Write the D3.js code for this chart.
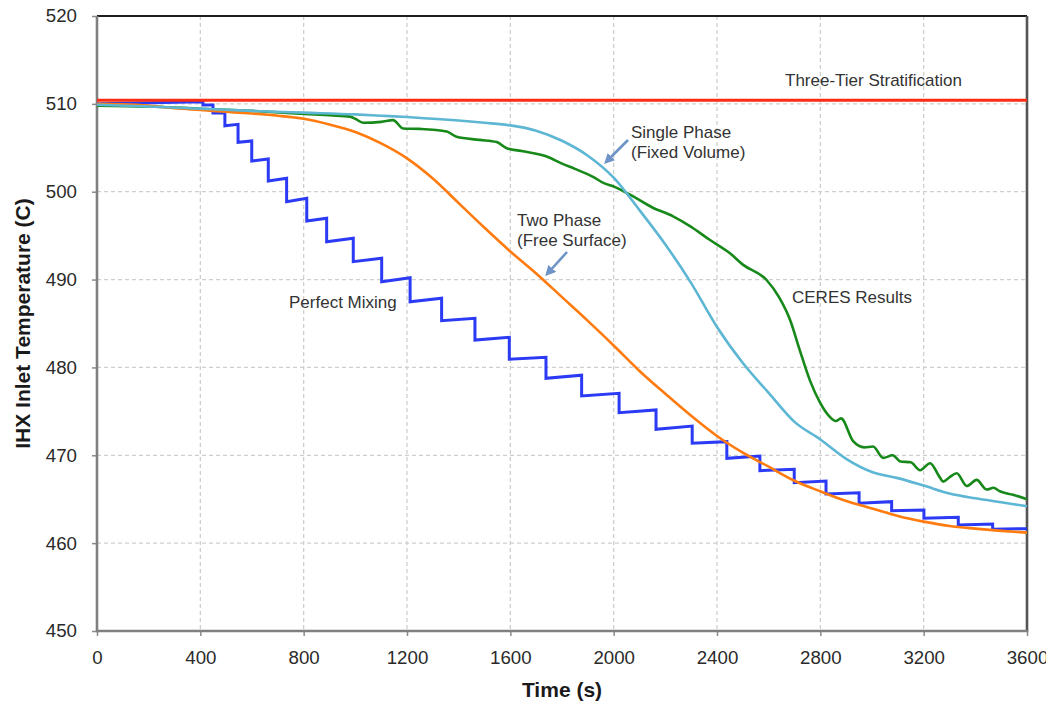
<!DOCTYPE html>
<html>
<head>
<meta charset="utf-8">
<script src="https://cdn.jsdelivr.net/npm/d3@7"></script>
<style>
  html, body { margin: 0; padding: 0; background: #fff; }
  svg { display: block; font-family: "Liberation Sans", Arial, Helvetica, sans-serif; }
  .grid line { stroke: #cfcfcf; stroke-width: 1.3; stroke-dasharray: 4,3; }
  .axis text { fill: #2a2a2a; font-size: 18.7px; }
  .axis line { stroke: #8a8a8a; stroke-width: 1.5; }
  .axis path { display: none; }
  .note { fill: #333; font-size: 17px; }
</style>
</head>
<body>
<svg id="chart" width="1046" height="708"></svg>
<script>
// ─── Data ─────────────────────────────────────────────────────────────────────

const xTicks = [0, 400, 800, 1200, 1600, 2000, 2400, 2800, 3200, 3600];
const yTicks = [450, 460, 470, 480, 490, 500, 510, 520];

// Three-tier stratification: flat
const stratTime = [0, 3600];
const stratTemp = [510.4, 510.4];

// Perfect mixing: staircase (drop times, temp just before / after each drop)
const mixingStart = [0, 510.0];
const mixingEnd = [3600, 461.65];
const mixingDropTime = [410, 449, 495, 546, 599, 663, 734, 812, 889, 992, 1102, 1212, 1334, 1463, 1596,
  1738, 1876, 2021, 2164, 2304, 2438, 2566, 2699, 2822, 2950, 3076, 3201, 3334, 3467];
const mixingTop = [510.25, 509.87, 508.96, 507.67, 505.77, 503.72, 501.53, 499.25, 496.97, 494.70, 492.42,
  490.21, 487.87, 485.59, 483.43, 481.15, 479.11, 477.06, 475.16, 473.33, 471.55, 469.92, 468.41, 467.07,
  465.74, 464.72, 463.77, 462.94, 462.18];
const mixingBottom = [509.87, 508.96, 507.51, 505.62, 503.50, 501.22, 498.87, 496.67, 494.31, 492.04, 489.76,
  487.48, 485.32, 483.12, 480.93, 478.76, 476.75, 474.85, 472.96, 471.37, 469.66, 468.25, 466.88, 465.60,
  464.54, 463.69, 462.83, 462.07, 461.58];

// Two phase (free surface)
const twoPhaseTime = [0, 100, 200, 300, 400, 500, 600, 700, 800, 900, 1000, 1100, 1200, 1300, 1400, 1500,
  1600, 1700, 1800, 1900, 2000, 2100, 2200, 2300, 2400, 2500, 2600, 2700, 2800, 2900, 3000, 3100, 3200,
  3300, 3400, 3500, 3600];
const twoPhaseTemp = [510.0, 509.95, 509.8, 509.5, 509.3, 509.1, 508.9, 508.65, 508.3, 507.65, 506.8, 505.5,
  503.8, 501.5, 498.7, 495.9, 493.2, 490.7, 488.0, 485.3, 482.5, 479.6, 477.0, 474.5, 472.2, 470.3, 468.7,
  467.1, 465.9, 464.8, 463.95, 463.1, 462.45, 461.95, 461.65, 461.4, 461.2];

// Single phase (fixed volume)
const singlePhaseTime = [0, 200, 400, 600, 800, 1000, 1100, 1200, 1300, 1400, 1500, 1600, 1700, 1800, 1900,
  2000, 2100, 2200, 2300, 2400, 2500, 2600, 2700, 2800, 2900, 3000, 3100, 3200, 3300, 3400, 3500, 3600];
const singlePhaseTemp = [509.9, 509.7, 509.45, 509.2, 509.0, 508.8, 508.65, 508.5, 508.3, 508.1, 507.85,
  507.55, 506.95, 505.8, 504.1, 501.6, 497.9, 494.0, 489.6, 484.6, 480.5, 477.1, 473.8, 471.8, 469.6, 468.1,
  467.4, 466.55, 465.65, 465.1, 464.65, 464.2];

// CERES results
const ceresTime = [0, 200, 400, 600, 750, 900, 980, 1000, 1030, 1100, 1146, 1185, 1250, 1354, 1392, 1480,
  1547, 1586, 1650, 1741, 1800, 1850, 1920, 1960, 2000, 2067, 2150, 2230, 2300, 2373, 2450, 2500, 2592,
  2640, 2683, 2720, 2760, 2799, 2830, 2860, 2880, 2927, 2970, 3004, 3043, 3080, 3110, 3150, 3186, 3225,
  3260, 3276, 3300, 3328, 3367, 3405, 3444, 3470, 3495, 3546, 3600];
const ceresTemp = [509.8, 509.7, 509.45, 509.2, 508.95, 508.7, 508.55, 508.3, 507.85, 507.95, 508.15, 507.2,
  507.15, 506.85, 506.25, 505.9, 505.65, 504.95, 504.6, 504.0, 503.2, 502.6, 501.7, 501.0, 500.6, 499.6,
  498.2, 497.2, 496.0, 494.5, 493.0, 491.7, 489.95, 488.0, 485.4, 482.0, 478.5, 476.0, 474.6, 473.9, 474.2,
  471.6, 470.9, 471.0, 469.7, 470.0, 469.3, 469.2, 468.3, 469.1, 467.6, 467.0, 467.5, 467.95, 466.5, 467.2,
  466.1, 466.3, 465.9, 465.5, 465.0];

// ─── Chart ────────────────────────────────────────────────────────────────────

const svg = d3.select("#chart");
const margin = { top: 16, right: 19, bottom: 77, left: 97 };
const W = 1046, H = 708;

const x = d3.scaleLinear().domain([0, 3600]).range([margin.left, W - margin.right]);
const y = d3.scaleLinear().domain([450, 520]).range([H - margin.bottom, margin.top]);

// Grid
const grid = svg.append("g").attr("class", "grid");
grid.selectAll(".gx")
  .data(xTicks.slice(1, -1))
  .join("line")
  .attr("class", "gx")
  .attr("x1", d => x(d)).attr("x2", d => x(d))
  .attr("y1", y(520)).attr("y2", y(450));
grid.selectAll(".gy")
  .data(yTicks.slice(1, -1))
  .join("line")
  .attr("class", "gy")
  .attr("x1", x(0)).attr("x2", x(3600))
  .attr("y1", d => y(d)).attr("y2", d => y(d));

// Axes
svg.append("g")
  .attr("class", "axis")
  .attr("transform", `translate(${x(0)},0)`)
  .call(d3.axisLeft(y).tickValues(yTicks).tickFormat(d3.format("d")).tickSize(5).tickPadding(15));

svg.append("g")
  .attr("class", "axis")
  .attr("transform", `translate(0,${y(450)})`)
  .call(d3.axisBottom(x).tickValues(xTicks).tickFormat(d3.format("d")).tickSize(5).tickPadding(15));

// Frame
svg.append("line")
  .attr("x1", x(0)).attr("x2", x(3600)).attr("y1", y(520)).attr("y2", y(520))
  .attr("stroke", "#1e1e1e").attr("stroke-width", 1.8);
svg.append("line")
  .attr("x1", x(3600)).attr("x2", x(3600)).attr("y1", y(520)).attr("y2", y(450))
  .attr("stroke", "#555").attr("stroke-width", 2.6);
svg.append("line")
  .attr("x1", x(0)).attr("x2", x(0)).attr("y1", y(520)).attr("y2", y(450) + 1.3)
  .attr("stroke", "#808080").attr("stroke-width", 2.6);
svg.append("line")
  .attr("x1", x(0)).attr("x2", x(3600) + 1.3).attr("y1", y(450)).attr("y2", y(450))
  .attr("stroke", "#808080").attr("stroke-width", 2.6);

// Series
const zip = (ts, vs) => ts.map((t, i) => [t, vs[i]]);
const stepLine = d3.line().x(d => x(d[0])).y(d => y(d[1]));
const smoothLine = d3.line().x(d => x(d[0])).y(d => y(d[1])).curve(d3.curveMonotoneX);

const mixingPoints = [mixingStart];
mixingDropTime.forEach((t, i) => {
  mixingPoints.push([t, mixingTop[i]]);
  mixingPoints.push([t, mixingBottom[i]]);
});
mixingPoints.push(mixingEnd);

const series = [
  { pts: mixingPoints, color: "#2b3af5", width: 3, gen: stepLine },
  { pts: zip(ceresTime, ceresTemp), color: "#17891a", width: 2.6, gen: smoothLine },
  { pts: zip(twoPhaseTime, twoPhaseTemp), color: "#ff7b0f", width: 2.6, gen: smoothLine },
  { pts: zip(singlePhaseTime, singlePhaseTemp), color: "#5db6d3", width: 2.6, gen: smoothLine },
  { pts: zip(stratTime, stratTemp), color: "#fb2b14", width: 3, gen: stepLine },
];

svg.append("g")
  .selectAll("path")
  .data(series)
  .join("path")
  .attr("d", d => d.gen(d.pts))
  .attr("fill", "none")
  .attr("stroke", d => d.color)
  .attr("stroke-width", d => d.width)
  .attr("stroke-linejoin", "miter");

// Annotations
const notes = [
  { text: "Three-Tier Stratification", x: 785, y: 86 },
  { text: "Single Phase", x: 631, y: 138 },
  { text: "(Fixed Volume)", x: 631, y: 158 },
  { text: "Two Phase", x: 517, y: 226 },
  { text: "(Free Surface)", x: 517, y: 246 },
  { text: "Perfect Mixing", x: 289, y: 308 },
  { text: "CERES Results", x: 792, y: 303 },
];
svg.selectAll(".note")
  .data(notes)
  .join("text")
  .attr("class", "note")
  .attr("x", d => d.x)
  .attr("y", d => d.y)
  .text(d => d.text);

// Arrows
svg.append("defs").append("marker")
  .attr("id", "head")
  .attr("viewBox", "0 0 10 10")
  .attr("refX", 6).attr("refY", 5)
  .attr("markerWidth", 4).attr("markerHeight", 4)
  .attr("orient", "auto")
  .append("path")
  .attr("d", "M0,0 L10,5 L0,10 z")
  .attr("fill", "#6e93c6");

const arrows = [
  [[628, 140], [607, 161]],
  [[567, 252], [548, 273]],
];
svg.selectAll(".arrow")
  .data(arrows)
  .join("line")
  .attr("class", "arrow")
  .attr("x1", d => d[0][0]).attr("y1", d => d[0][1])
  .attr("x2", d => d[1][0]).attr("y2", d => d[1][1])
  .attr("stroke", "#6e93c6")
  .attr("stroke-width", 2.6)
  .attr("marker-end", "url(#head)");

// Axis titles
svg.append("text")
  .attr("x", x(1800))
  .attr("y", 697)
  .attr("text-anchor", "middle")
  .attr("font-size", "21px")
  .attr("font-weight", "700")
  .attr("fill", "#1a1a1a")
  .text("Time (s)");

svg.append("text")
  .attr("transform", `translate(30,${y(485)}) rotate(-90)`)
  .attr("text-anchor", "middle")
  .attr("font-size", "21px")
  .attr("font-weight", "700")
  .attr("fill", "#1a1a1a")
  .text("IHX Inlet Temperature (C)");
</script>
</body>
</html>
